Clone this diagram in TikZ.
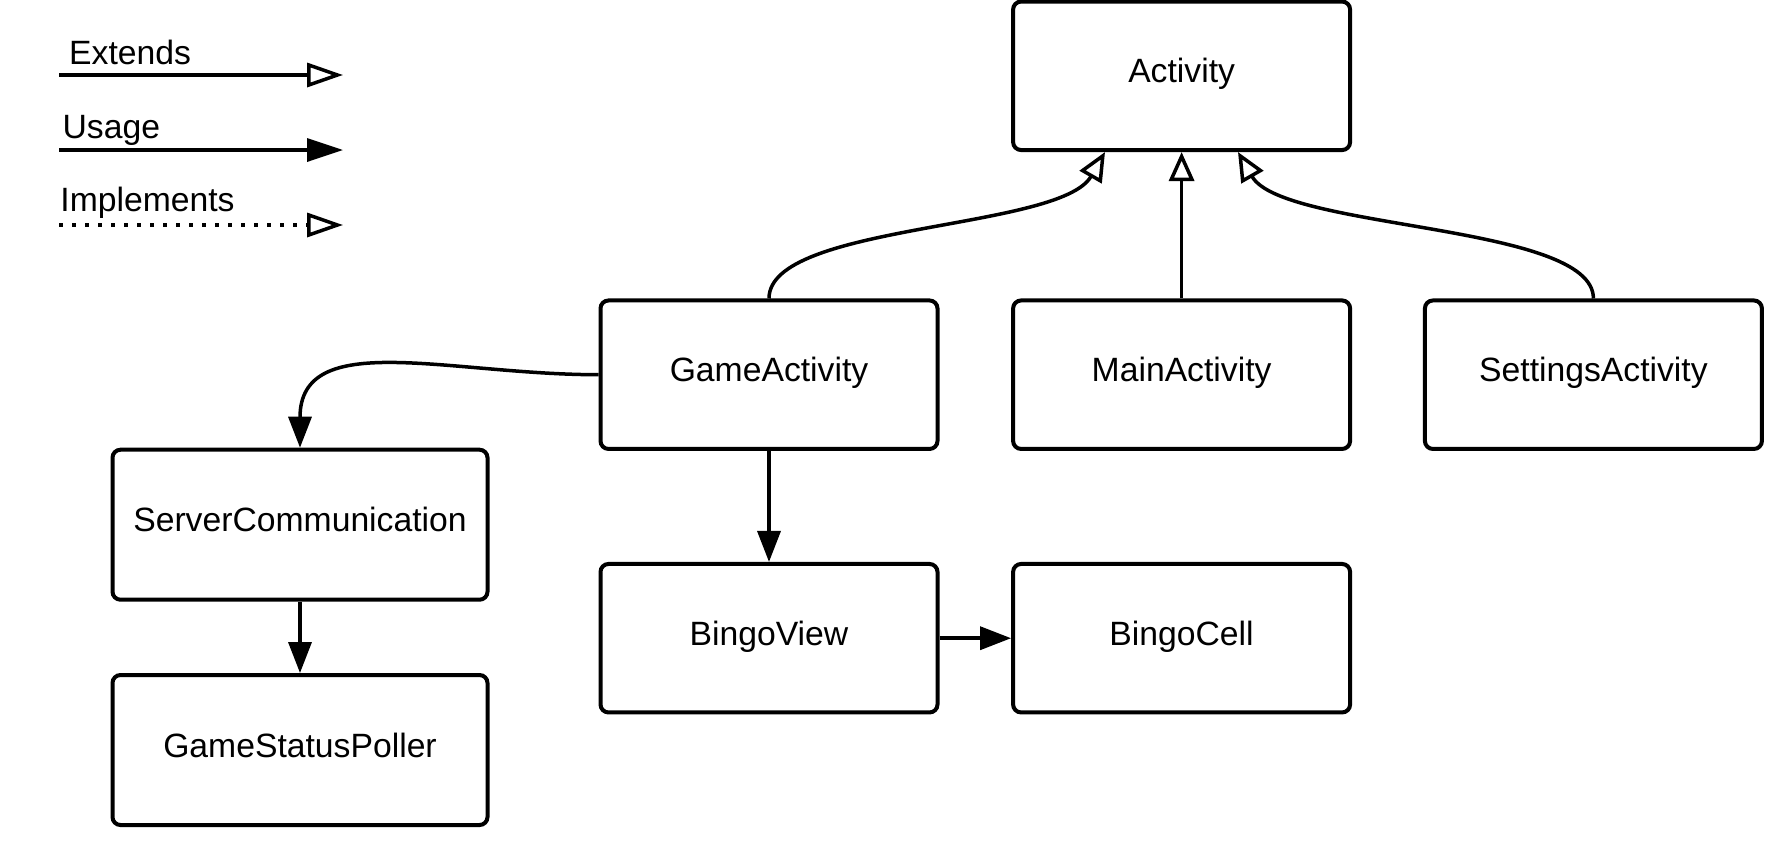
\documentclass[tikz,border=0pt]{standalone}
\usepackage{fontspec}
\setmainfont{Liberation Sans}
\usetikzlibrary{arrows.meta,calc}
\begin{document}
\begin{tikzpicture}[x=1pt,y=-1pt,
  font=\fontsize{33.7}{40}\selectfont,
  box/.style={draw,line width=4pt,rounded corners=8pt,minimum width=337pt,minimum height=148.5pt,inner sep=0pt,text height=22pt,text depth=8pt},
  widebox/.style={box,minimum width=375pt,minimum height=150pt},
  conn/.style={line width=3.5pt},
  extends/.style={conn,-{Triangle[open,length=29pt,width=25pt]}},
  usage/.style={conn,-{Triangle[length=31pt,width=23pt]}},
  legext/.style={conn,-{Triangle[open,length=36pt,width=24pt]}},
  legusage/.style={conn,-{Triangle[length=36pt,width=23pt]}},
  legimpl/.style={conn,dash pattern=on 3.5pt off 9.5pt,-{Triangle[open,length=36pt,width=24pt]}},
  legtext/.style={anchor=base west,inner sep=0pt}
]
\useasboundingbox (0,0) rectangle (1779,855);

% legend
\node[legtext] (tExt) at (69,64) {Extends};
\node[legtext] (tUse) at (62.4,138.3) {Usage};
\node[legtext] (tImp) at (60.2,211.7) {Implements};
\coordinate (l1a) at (59,75);  \coordinate (l1b) at (343,75);
\coordinate (l2a) at (59,150); \coordinate (l2b) at (343,150);
\coordinate (l3a) at (59,225); \coordinate (l3b) at (343,225);
\draw[legext] (l1a) -- (l1b);
\draw[legusage] (l2a) -- (l2b);
\draw[legimpl] (l3a) -- (l3b);

% classes
\node[box] (act) at (1181.6,75.8) {Activity};
\node[box] (game) at (769,374.7) {GameActivity};
\node[box] (main) at (1181.6,374.7) {MainActivity};
\node[box] (set) at (1593.4,374.7) {SettingsActivity};
\node[widebox] (srv) at (300,524.7) {ServerCommunication};
\node[widebox] (poll) at (300,750) {GameStatusPoller};
\node[box] (view) at (769,638.2) {BingoView};
\node[box] (cell) at (1181.6,638.2) {BingoCell};

% extends
\draw[extends] (game.north) .. controls ($(game.north)+(0,-75)$) and ($(act.south)+(-121.6,78.3)$) .. ($(act.south)+(-76.6,0)$);
\draw[extends] (main.north) -- (act.south);
\draw[extends] (set.north) .. controls ($(set.north)+(0,-75)$) and ($(act.south)+(101.4,78.3)$) .. ($(act.south)+(56.4,0)$);

% usage
\draw[usage] (game.west) .. controls ($(game.west)+(-150,0)$) and ($(srv.north)+(0,-120)$) .. (srv.north);
\draw[usage] (game.south) -- (view.north);
\draw[usage] (view.east) -- (cell.west);
\draw[usage] (srv.south) -- (poll.north);
\end{tikzpicture}
\end{document}
